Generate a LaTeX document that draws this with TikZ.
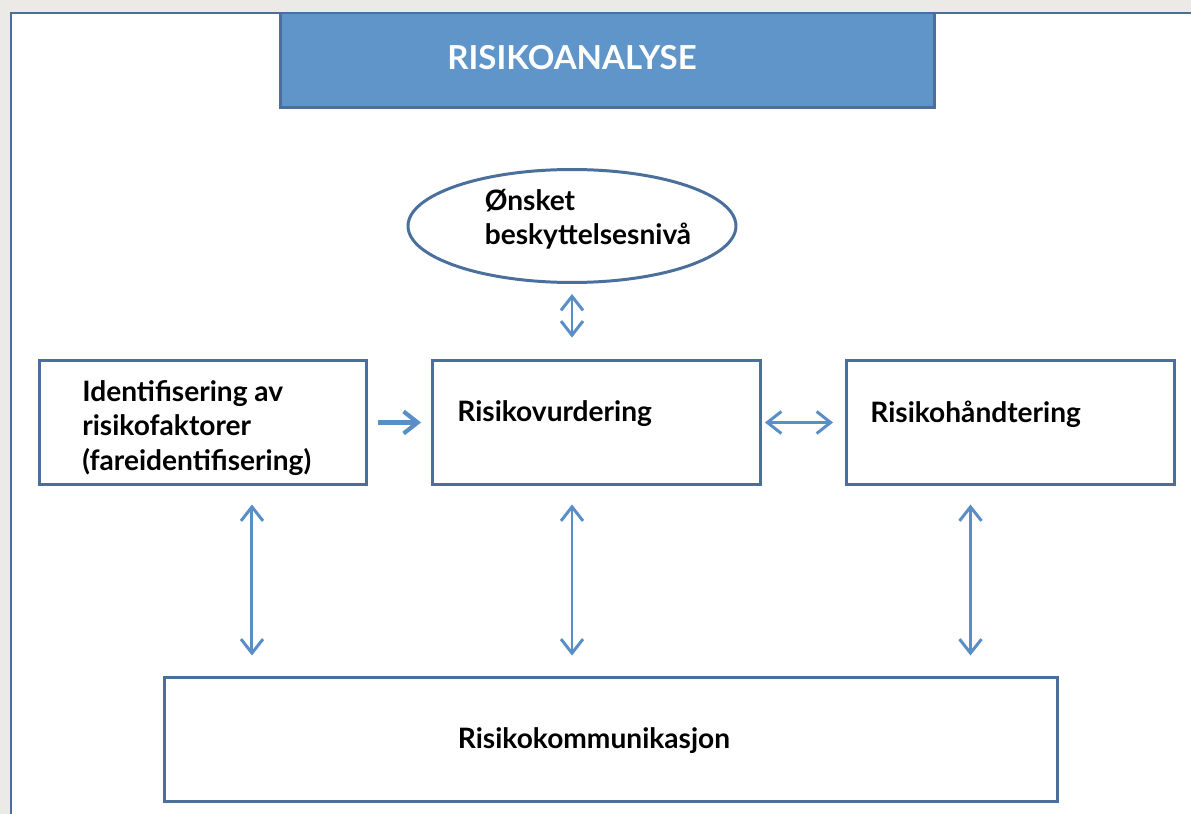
\documentclass[tikz,border=0pt]{standalone}
\usepackage{fontspec}
\setmainfont{Lato}
\usepackage{xcolor}
\usetikzlibrary{arrows.meta,positioning,shapes.geometric}

\definecolor{frameblue}{HTML}{4A6F9D}
\definecolor{titleblue}{HTML}{5F95C9}
\definecolor{arrowblue}{HTML}{5B8EC6}
\definecolor{bggray}{HTML}{ECEAE7}

\begin{document}
\begin{tikzpicture}[
      x=0.02cm, y=-0.02cm,
      box/.style={draw=frameblue, line width=1.7pt, fill=white, minimum width=6.56cm, minimum height=2.5cm},
      oval/.style={draw=frameblue, line width=1.7pt, fill=white, ellipse, minimum width=6.56cm, minimum height=2.26cm},
      lbl/.style={align=left, inner sep=0pt, font=\fontsize{16}{19.6}\selectfont\bfseries},
      darr/.style={{Straight Barb[length=2.8mm,width=4.4mm]}-{Straight Barb[length=2.8mm,width=4.4mm]}, line width=1.7pt, draw=arrowblue},
      arr/.style={-{Straight Barb[length=2.8mm,width=4.4mm]}, line width=2.4pt, draw=arrowblue},
    ]
    % background and frame
    \useasboundingbox[fill=bggray] (0,0) rectangle (1191,814);
    \fill[white] (11,13) rectangle (1191,814);
    \draw[frameblue, line width=1.7pt] (1191,13) -- (11,13) -- (11,814);

    \node[draw=frameblue, line width=1.7pt, fill=titleblue, minimum width=13.1cm, minimum height=1.9cm] (title) at (607.5,60.5) {};
    \node[text=white, font=\fontsize{18.8}{22}\selectfont\bfseries] (titletxt) at (572,58) {RISIKOANALYSE};

    \node[oval] (niva) at (572,226) {};
    \node[lbl] (nivatxt) at (588,219) {Ønsket\\beskyttelsesnivå};
    \node[box] (ident) at (203,422.5) {};
    \node[lbl, anchor=west] (identtxt) at (82,428) {Identifisering av\\risikofaktorer\\(fareidentifisering)};
    \node[box] (vurd) at (596.5,422.5) {};
    \node[lbl, anchor=west] (vurdtxt) at (457,414) {Risikovurdering};
    \node[box] (hand) at (1010.5,422.5) {};
    \node[lbl, anchor=west] (handtxt) at (870,414) {Risikohåndtering};
    \node[box, minimum width=17.88cm] (komm) at (611,739.5) {};
    \node[lbl] (kommtxt) at (594,741) {Risikokommunikasjon};

    \draw[darr, shorten <=0.2cm, shorten >=0.42cm] (niva.south) -- (niva.south |- vurd.north);
    \draw[arr, shorten <=0.2cm, shorten >=0.2cm] (ident.east) -- (vurd.west);
    \draw[darr, shorten <=0.06cm, shorten >=0.24cm] (vurd.east) -- (hand.west);
    % links down to communication
    \draw[darr, shorten <=0.36cm, shorten >=0.4cm] ([xshift=0.98cm]ident.south) -- ([xshift=0.98cm]ident.south |- komm.north);
    \draw[darr, shorten <=0.36cm, shorten >=0.4cm] (vurd.south -| niva.south) -- (niva.south |- komm.north);
    \draw[darr, shorten <=0.36cm, shorten >=0.4cm] ([xshift=-0.8cm]hand.south) -- ([xshift=-0.8cm]hand.south |- komm.north);
  \end{tikzpicture}
\end{document}
